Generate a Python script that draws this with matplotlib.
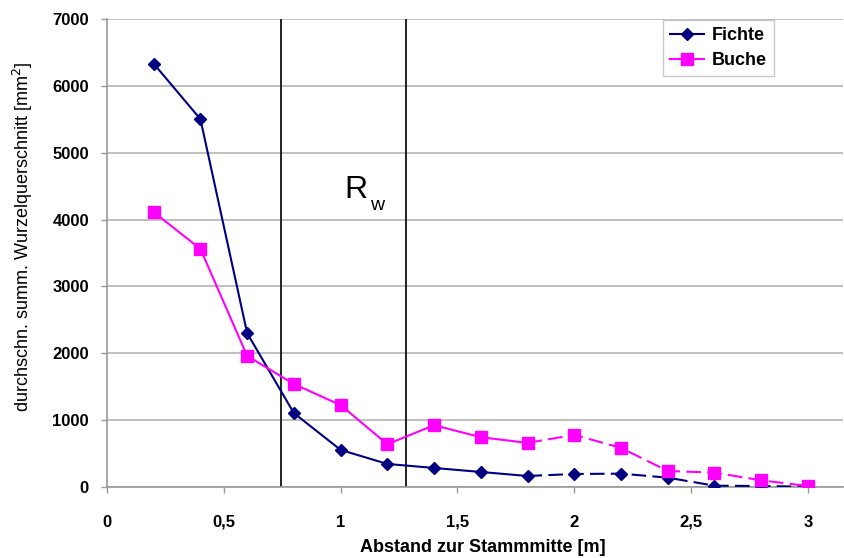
import matplotlib
matplotlib.use("Agg")
import matplotlib.pyplot as plt

plt.rcParams['font.family'] = ['Liberation Sans', 'DejaVu Sans']

# Abstand zur Stammmitte [m]
distance = [0.2, 0.4, 0.6, 0.8, 1.0, 1.2, 1.4, 1.6, 1.8, 2.0, 2.2, 2.4, 2.6, 2.8, 3.0]
fichte = [6330, 5500, 2300, 1105, 555, 345, 285, 225, 165, 195, 200, 140, 20, 15, 5]
buche = [4110, 3560, 1960, 1540, 1225, 640, 925, 745, 660, 780, 585, 240, 215, 100, 15]
solid_count = 9  # measured points; the rest drawn dashed

rw_bounds = [0.745, 1.28]
x_ticks = [0, 0.5, 1, 1.5, 2, 2.5, 3]
x_ticklabels = ["0", "0,5", "1", "1,5", "2", "2,5", "3"]
y_ticks = [0, 1000, 2000, 3000, 4000, 5000, 6000, 7000]

fig = plt.figure(figsize=(8.45, 5.58), dpi=100)
ax = fig.add_axes([0.1266, 0.1272, 0.871, 0.839])

series = [
    ("Fichte", fichte, "#000080", "D", 6.5),
    ("Buche", buche, "#FF00FF", "s", 8),
]
for name, vals, col, mk, ms in series:
    ax.plot(distance[:solid_count], vals[:solid_count], color=col, lw=1.5,
            marker=mk, ms=ms, label=name, zorder=3)
    ax.plot(distance[solid_count - 1:], vals[solid_count - 1:], color=col, lw=1.5,
            ls=(0, (7, 3)), marker=mk, ms=ms,
            markevery=list(range(1, len(vals) - solid_count + 1)), zorder=3)

for xv in rw_bounds:
    ax.axvline(xv, color="#222222", lw=1.4, zorder=2)

ax.text(1.066, 4320, "R", fontsize=23, ha="center", va="baseline")
ax.text(1.155, 4140, "w", fontsize=14, ha="center", va="baseline")

ax.set_xlim(0, 3.15)
ax.set_ylim(0, 7000)
ax.set_xticks(x_ticks)
ax.set_xticklabels(x_ticklabels, fontsize=12, fontweight="bold")
ax.set_yticks(y_ticks)
ax.set_yticklabels([str(v) for v in y_ticks], fontsize=12, fontweight="bold")

ax.yaxis.grid(True, color="#bbbbbb", lw=1.3, zorder=0)
ax.set_axisbelow(True)
for s in ["top", "right"]:
    ax.spines[s].set_visible(False)
for s in ["left", "bottom"]:
    ax.spines[s].set_color("#999999")
    ax.spines[s].set_linewidth(1.2)
ax.tick_params(axis="both", length=4, color="#999999", width=1)
ax.tick_params(axis="x", pad=16)
ax.tick_params(axis="y", pad=9)

ax.set_xlabel("Abstand zur Stammmitte [m]", fontsize=13, fontweight="bold")
ax.set_ylabel("durchschn. summ. Wurzelquerschnitt [mm$^2$]", fontsize=13)
ax.xaxis.set_label_coords(0.51, -0.11)
ax.yaxis.set_label_coords(-0.098, 0.534)

leg = ax.legend(loc="upper left", bbox_to_anchor=(0.755, 0.998),
                prop={"weight": "bold", "size": 13}, frameon=True, fancybox=False,
                edgecolor="#bbbbbb", handlelength=1.9, handletextpad=0.4,
                borderpad=0.4, labelspacing=0.45, borderaxespad=0)
leg.get_frame().set_linewidth(1.0)

fig.savefig("out.png", dpi=100)
